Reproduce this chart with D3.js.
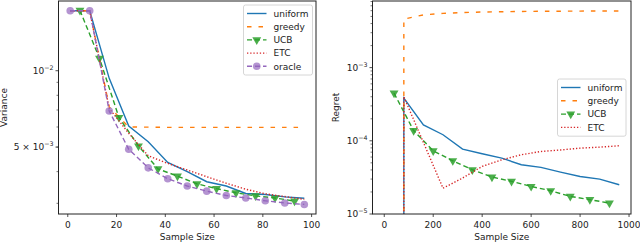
<!DOCTYPE html>
<html><head><meta charset="utf-8">
<script src="https://cdn.jsdelivr.net/npm/d3@7"></script>
<style>
body{margin:0;background:#fff;}
svg{display:block;font-family:"DejaVu Sans",sans-serif;}
</style></head>
<body>
<svg id="chart" width="640" height="243"></svg>
<script>
// ---------- Left panel: Variance vs Sample Size ----------
const varX = [1, 9, 17, 25, 33, 41, 49, 57, 65, 73, 81, 89, 97];
const varUniform = [0.01725, 0.01725, 0.00933, 0.00605, 0.00525, 0.00435, 0.0040, 0.00365, 0.00351, 0.00328, 0.00325, 0.00318, 0.00314];
const varGreedy  = [0.01725, 0.01725, 0.00720, 0.00600, 0.00599, 0.00598, 0.00598, 0.00598, 0.00598, 0.00598, 0.00598, 0.00598, 0.00598];
const varEtc     = [0.01725, 0.01725, 0.00710, 0.00567, 0.00462, 0.00431, 0.00406, 0.00382, 0.00360, 0.00341, 0.00327, 0.00319, 0.00311];
const varOracle  = [0.01725, 0.01725, 0.00694, 0.00490, 0.00414, 0.00375, 0.00351, 0.00335, 0.00322, 0.00315, 0.00307, 0.00301, 0.00297];
const varUcbX = [5, 13, 21, 29, 37, 45, 53, 61, 69, 77, 85, 93];
const varUcb  = [0.0173, 0.01119, 0.00654, 0.00505, 0.00410, 0.00384, 0.00358, 0.00343, 0.00330, 0.00321, 0.00315, 0.00306];
const varXTicks = [0, 20, 40, 60, 80, 100];

// ---------- Right panel: Regret vs Sample Size ----------
const regX = [80, 80, 160, 240, 320, 400, 480, 560, 640, 720, 800, 880, 960];
const regUniform = [0, 3.83e-4, 1.65e-4, 1.21e-4, 7.7e-5, 6.65e-5, 5.8e-5, 4.71e-5, 4.33e-5, 3.74e-5, 3.26e-5, 3.0e-5, 2.51e-5];
const regGreedy  = [0, 4.6e-3, 5.25e-3, 5.5e-3, 5.65e-3, 5.75e-3, 5.8e-3, 5.85e-3, 5.88e-3, 5.9e-3, 5.92e-3, 5.93e-3, 5.94e-3];
const regEtc     = [0, 4.0e-4, 9.5e-5, 2.25e-5, 3.1e-5, 4.47e-5, 5.5e-5, 6.45e-5, 7.15e-5, 7.5e-5, 7.94e-5, 8.2e-5, 8.55e-5];
const regUcbX = [40, 120, 200, 280, 360, 440, 520, 600, 680, 760, 840, 920];
const regUcb  = [4.48e-4, 1.38e-4, 7.31e-5, 5.34e-5, 4.02e-5, 3.20e-5, 2.79e-5, 2.38e-5, 2.08e-5, 1.74e-5, 1.57e-5, 1.41e-5];
const regXTicks = [0, 200, 400, 600, 800, 1000];

const seriesNames = ["uniform", "greedy", "UCB", "ETC", "oracle"];
const colors = {uniform:"#1f77b4", greedy:"#ff7f0e", UCB:"#2ca02c", ETC:"#d62728", oracle:"#9467bd"};
const dashes = {uniform:null, greedy:"4.5,7", UCB:"5,3", ETC:"1.3,1.9", oracle:"5,3"};

const svg = d3.select("#chart");
const FS = 9;

function panel(opts){
  const {id, xr, yr, xd, yd, xTicks, majorY, minorY, ylabel, ylabelX} = opts;
  const x = d3.scaleLinear().domain(xd).range(xr);
  const y = d3.scaleLog().domain(yd).range(yr);
  const g = svg.append("g");
  svg.append("clipPath").attr("id", id).append("rect")
    .attr("x", xr[0]).attr("y", yr[1]).attr("width", xr[1]-xr[0]).attr("height", yr[0]-yr[1]);
  const plot = g.append("g").attr("clip-path", `url(#${id})`);
  const yy = v => v > 0 ? y(v) : yr[0] + 20;
  function line(xs, vs, name, marker){
    const pts = xs.map((d,i)=>[x(d), yy(vs[i])]);
    plot.append("path").attr("d", d3.line()(pts)).attr("fill","none")
      .attr("stroke", colors[name]).attr("stroke-width", 1.4)
      .attr("stroke-dasharray", dashes[name]);
    if (marker === "tri") {
      plot.selectAll(null).data(pts).join("path")
        .attr("d", d3.symbol(d3.symbolTriangle, 34)())
        .attr("transform", p=>`translate(${p[0]},${p[1]}) rotate(180)`)
        .attr("fill", colors[name]).attr("fill-opacity", 0.85);
    } else if (marker === "circ") {
      plot.selectAll(null).data(pts).join("circle")
        .attr("cx", p=>p[0]).attr("cy", p=>p[1]).attr("r", 3.8)
        .attr("fill", colors[name]).attr("fill-opacity", 0.7);
    }
  }
  opts.draw(line);
  // spines
  g.append("rect").attr("x", xr[0]).attr("y", yr[1]).attr("width", xr[1]-xr[0]).attr("height", yr[0]-yr[1])
    .attr("fill","none").attr("stroke","#222").attr("stroke-width",1);
  // x ticks
  xTicks.forEach(t=>{
    const px = x(t);
    g.append("line").attr("x1",px).attr("x2",px).attr("y1",yr[0]).attr("y2",yr[0]+3).attr("stroke","#222").attr("stroke-width",0.8);
    g.append("text").attr("x",px).attr("y",yr[0]+14).attr("text-anchor","middle").attr("font-size",FS).attr("fill","#222").text(t);
  });
  g.append("text").attr("x",(xr[0]+xr[1])/2).attr("y",240).attr("text-anchor","middle").attr("font-size",FS).attr("fill","#222").text("Sample Size");
  // y minor ticks
  minorY.forEach(v=>{
    const py = y(v);
    g.append("line").attr("x1",xr[0]).attr("x2",xr[0]-2).attr("y1",py).attr("y2",py).attr("stroke","#222").attr("stroke-width",0.6);
  });
  // y major ticks
  majorY.forEach(m=>{
    const py = y(m.v);
    g.append("line").attr("x1",xr[0]).attr("x2",xr[0]-3).attr("y1",py).attr("y2",py).attr("stroke","#222").attr("stroke-width",0.8);
    const t = g.append("text").attr("x",xr[0]-5).attr("y",py+3).attr("text-anchor","end").attr("font-size",FS).attr("fill","#222");
    t.append("tspan").text(m.base);
    t.append("tspan").attr("dy",-4).attr("font-size",6.3).text(m.exp);
  });
  g.append("text").attr("transform",`translate(${ylabelX},${(yr[0]+yr[1])/2}) rotate(-90)`)
    .attr("text-anchor","middle").attr("font-size",FS).attr("fill","#222").text(ylabel);
  return {x,y,g};
}

function legend(x0, y0, w, names, rowH){
  const h = names.length*rowH + 4;
  const g = svg.append("g");
  g.append("rect").attr("x",x0).attr("y",y0).attr("width",w).attr("height",h).attr("rx",2)
    .attr("fill","#fff").attr("fill-opacity",0.8).attr("stroke","#ccc").attr("stroke-width",0.8);
  names.forEach((n,i)=>{
    const cy = y0 + 8.5 + i*rowH;
    const lx1 = x0+3.5, lx2 = x0+23;
    g.append("line").attr("x1",lx1).attr("x2",lx2).attr("y1",cy).attr("y2",cy)
      .attr("stroke",colors[n]).attr("stroke-width",1.4).attr("stroke-dasharray",dashes[n]);
    if (n==="UCB") g.append("path").attr("d",d3.symbol(d3.symbolTriangle,34)())
      .attr("transform",`translate(${(lx1+lx2)/2},${cy}) rotate(180)`).attr("fill",colors[n]).attr("fill-opacity",0.85);
    if (n==="oracle") g.append("circle").attr("cx",(lx1+lx2)/2).attr("cy",cy).attr("r",3.8).attr("fill",colors[n]).attr("fill-opacity",0.7);
    g.append("text").attr("x",x0+30).attr("y",cy+3.2).attr("font-size",FS).attr("fill","#222").text(n);
  });
}

function minors(lo, hi){
  const out=[];
  for(let e=Math.floor(Math.log10(lo)); e<=Math.ceil(Math.log10(hi)); e++){
    for(let k=2;k<=9;k++){const v=k*Math.pow(10,e); if(v>=lo&&v<=hi) out.push(v);}
  }
  return out;
}

// Left panel
const yd1 = [Math.pow(10,-2.565), Math.pow(10,-1.725)];
panel({id:"c1", xr:[58.5,316], yr:[214,1], xd:[-3.8,101.8], yd:yd1, xTicks:varXTicks,
  majorY:[{v:1e-2, base:"10", exp:"−2"},{v:5e-3, base:"5 × 10", exp:"−3"}],
  minorY:minors(yd1[0], yd1[1]), ylabel:"Variance", ylabelX:7,
  draw:(line)=>{
    line(varX, varUniform, "uniform");
    line(varX, varGreedy, "greedy");
    line(varUcbX, varUcb, "UCB", "tri");
    line(varX, varEtc, "ETC");
    line(varX, varOracle, "oracle", "circ");
  }});
legend(243.5, 5, 69, seriesNames, 13.2);

// Right panel
const yd2 = [1e-5, 8.13e-3];
panel({id:"c2", xr:[372.5,631], yr:[214,1], xd:[-48,1008], yd:yd2, xTicks:regXTicks,
  majorY:[{v:1e-3, base:"10", exp:"−3"},{v:1e-4, base:"10", exp:"−4"},{v:1e-5, base:"10", exp:"−5"}],
  minorY:minors(yd2[0], yd2[1]), ylabel:"Regret", ylabelX:339,
  draw:(line)=>{
    line(regX, regUniform, "uniform");
    line(regX, regGreedy, "greedy");
    line(regUcbX, regUcb, "UCB", "tri");
    line(regX, regEtc, "ETC");
  }});
legend(557.5, 79, 68.5, ["uniform","greedy","UCB","ETC"], 13.3);
</script>
</body></html>
